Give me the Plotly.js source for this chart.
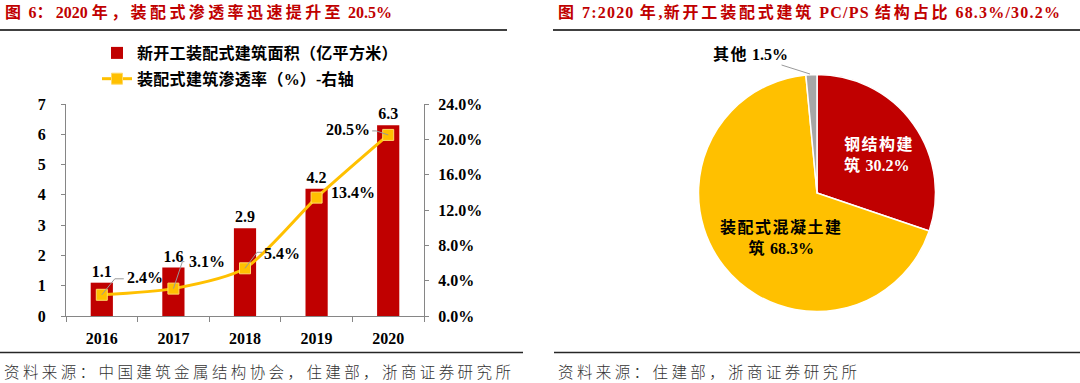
<!DOCTYPE html>
<html><head><meta charset="utf-8">
<script src="https://cdn.plot.ly/plotly-3.0.1.min.js"></script>
<style>html,body{margin:0;padding:0;background:#fff}#chart{width:1080px;height:383px}</style>
</head><body><div id="chart"></div>
<script>
// ---- data ----
const years = ['2016', '2017', '2018', '2019', '2020'];
const areaValues = [1.1, 1.6, 2.9, 4.2, 6.3];            // 亿平方米
const penetrationRates = [2.4, 3.1, 5.4, 13.4, 20.5];   // %
const leftTickVals = [0, 1, 2, 3, 4, 5, 6, 7];
const rightTickVals = [0, 4, 8, 12, 16, 20, 24];
const pieLabels = ['钢结构建筑', '装配式混凝土建筑', '其他'];
const pieValues = [30.2, 68.3, 1.5];

const barName = '新开工装配式建筑面积（亿平方米）';
const lineName = '装配式建筑渗透率（%）-右轴';
const leftTitle = '图 6：2020 年，装配式渗透率迅速提升至 20.5%';
const rightTitle = '图 7:2020 年,新开工装配式建筑 PC/PS 结构占比 68.3%/30.2%';
const leftSource = '资料来源：中国建筑金属结构协会，住建部，浙商证券研究所';
const rightSource = '资料来源：住建部，浙商证券研究所';

// ---- helpers ----
const W = 1080, H = 383;
const px = v => v / W;
const py = v => (H - v) / H;
const FONT = 'Liberation Serif, "Noto Sans CJK SC", serif';
const RED = '#C00000', GOLD = '#FFC000', GREY = '#A6A6A6';
// widen CJK / Latin runs (reference uses a Song-style face with wider advance)
const CJK = /[\u3000-\u9fff\uff00-\uffef]/;
const sp = (s, ls, lat) => s.split(/([\u3000-\u9fff\uff00-\uffef]+)/).filter(p => p).map(p =>
  CJK.test(p) ? '<span style="letter-spacing:' + ls + 'px">' + p + '</span>'
              : (lat ? '<span style="letter-spacing:' + lat + 'px">' + p + '</span>' : p)).join('');

const traces = [
  {
    type: 'bar', x: years, y: areaValues, name: sp(barName, 0.3), legendgroup: 'a',
    marker: {color: RED}, width: 0.31,
    text: areaValues.map(v => v.toFixed(1)), textposition: 'outside',
    textfont: {family: FONT, size: 16, color: '#000', weight: 'bold'},
    cliponaxis: false, hoverinfo: 'skip'
  },
  {
    type: 'scatter', mode: 'lines+markers', x: years, y: penetrationRates, yaxis: 'y2',
    name: sp(lineName, 0.3), legendgroup: 'b',
    line: {color: GOLD, width: 3, shape: 'spline', smoothing: 0.7},
    marker: {symbol: 'square', size: 11, color: GOLD, line: {color: '#FFD966', width: 1}},
    cliponaxis: false, hoverinfo: 'skip'
  },
  {
    type: 'pie', labels: pieLabels, values: pieValues, sort: false,
    direction: 'clockwise', rotation: 0, textinfo: 'none', hoverinfo: 'skip',
    marker: {colors: [RED, GOLD, GREY], line: {color: '#fff', width: 1.5}},
    domain: {x: [px(698.5), px(935.5)], y: [py(311.5), py(74.5)]},
    showlegend: false
  }
];

// percentage labels (pixel offsets from their point, y up) and leader-line paths
const rateShift = [[43, 17], [34, 27], [37, 15], [36, 5], [-40, 5]];
const leaderPaths = ['M0,0L13,16L22,16', 'M0,0L9,27L11,27', 'M0,0L12,16L17,16', null, 'M0,0L-12,4L-16,4'];
const annotations = penetrationRates.map((r, i) => ({
  x: i, y: r, xref: 'x', yref: 'y2', showarrow: false,
  xshift: rateShift[i][0], yshift: rateShift[i][1],
  text: r.toFixed(1) + '%',
  font: {family: FONT, size: 16, color: '#000', weight: 'bold'}
}));
const shapes = [];
penetrationRates.forEach((r, i) => {
  if (!leaderPaths[i]) return;
  shapes.push({type: 'path', xref: 'x', yref: 'y2', xsizemode: 'pixel', ysizemode: 'pixel',
    xanchor: i, yanchor: r, path: leaderPaths[i], line: {color: '#999', width: 1}});
});

// pie labels
const pieBreak = [4, 7, null];
const pieLabelText = pieLabels.map((l, i) =>
  pieBreak[i] ? sp(l.slice(0, pieBreak[i]), 1.5) + '<br>' + sp(l.slice(pieBreak[i]), 1.5) + ' ' + pieValues[i].toFixed(1) + '%'
              : sp(l, 1.5) + ' ' + pieValues[i].toFixed(1) + '%');
annotations.push(
  {xref: 'paper', yref: 'paper', x: px(842), y: py(155), xanchor: 'left', yanchor: 'middle', align: 'left',
   text: pieLabelText[0], showarrow: false, font: {family: FONT, size: 16, color: '#fff', weight: 'bold'}},
  {xref: 'paper', yref: 'paper', x: px(781), y: py(238), xanchor: 'center', yanchor: 'middle', align: 'center',
   text: pieLabelText[1], showarrow: false, font: {family: FONT, size: 16, color: '#000', weight: 'bold'}},
  {xref: 'paper', yref: 'paper', x: px(810), y: py(74), text: pieLabelText[2],
   showarrow: true, arrowhead: 0, arrowwidth: 1, arrowcolor: '#999', ax: -60, ay: -19,
   font: {family: FONT, size: 16, color: '#000', weight: 'bold'}}
);

// titles and sources
annotations.push(
  {xref: 'paper', yref: 'paper', x: px(3), y: py(12), xanchor: 'left', yanchor: 'middle', showarrow: false,
   text: sp(leftTitle, 3.4), font: {family: FONT, size: 16, color: RED, weight: 'bold'}},
  {xref: 'paper', yref: 'paper', x: px(556), y: py(12), xanchor: 'left', yanchor: 'middle', showarrow: false,
   text: sp(rightTitle, 2.8, 1.2), font: {family: FONT, size: 16, color: RED, weight: 'bold'}},
  {xref: 'paper', yref: 'paper', x: px(2), y: py(371), xanchor: 'left', yanchor: 'middle', showarrow: false,
   text: sp(leftSource, 3.4), font: {family: '"Noto Sans CJK SC", sans-serif', size: 15.5, color: '#333', weight: 300}},
  {xref: 'paper', yref: 'paper', x: px(556), y: py(371), xanchor: 'left', yanchor: 'middle', showarrow: false,
   text: sp(rightSource, 3.4), font: {family: '"Noto Sans CJK SC", sans-serif', size: 15.5, color: '#333', weight: 300}}
);

const hline = (x0, x1, y, w, c) => ({type: 'line', xref: 'paper', yref: 'paper',
  x0: px(x0), x1: px(x1), y0: py(y), y1: py(y), line: {color: c, width: w}});
shapes.push(
  hline(0, 507, 30, 2, '#404040'),
  hline(553, 1080, 30, 2, '#404040'),
  hline(0, 523, 352.5, 1.5, '#262626'),
  hline(554, 1080, 352.5, 1.5, '#262626')
);

const tickFont = {family: FONT, size: 16, color: '#000', weight: 'bold'};
const layout = {
  width: W, height: H, margin: {l: 0, r: 0, t: 0, b: 0},
  paper_bgcolor: '#fff', plot_bgcolor: 'rgba(0,0,0,0)',
  showlegend: true,
  legend: {x: px(97), y: py(36), xanchor: 'left', yanchor: 'top', bgcolor: 'rgba(0,0,0,0)',
           font: {family: FONT, size: 16, color: '#000', weight: 'bold'}, traceorder: 'grouped',
           tracegroupgap: 2, itemwidth: 30},
  xaxis: {domain: [px(66), px(424)], type: 'category', range: [-0.5, 4.5],
          showline: true, linecolor: '#868686', linewidth: 1, ticks: 'outside', tickson: 'boundaries',
          ticklen: 5, tickcolor: '#868686', tickfont: tickFont, showgrid: false, zeroline: false,
          ticklabelstandoff: 8, fixedrange: true},
  yaxis: {domain: [py(316), py(104)], range: [0, 7], tickvals: leftTickVals,
          showline: true, linecolor: '#868686', linewidth: 1, ticks: 'outside', ticklen: 4,
          tickcolor: '#868686', tickfont: tickFont, showgrid: false, zeroline: false,
          ticklabelstandoff: 12, fixedrange: true},
  yaxis2: {overlaying: 'y', side: 'right', range: [0, 24], tickvals: rightTickVals,
           ticktext: rightTickVals.map(v => v.toFixed(1) + '%'),
           showline: true, linecolor: '#868686', linewidth: 1, ticks: 'outside', ticklen: 4,
           tickcolor: '#868686', tickfont: tickFont, showgrid: false, zeroline: false,
           ticklabelstandoff: 6, fixedrange: true, anchor: 'x'},
  annotations: annotations, shapes: shapes
};

Plotly.newPlot('chart', traces, layout, {staticPlot: true, displayModeBar: false});
</script></body></html>
